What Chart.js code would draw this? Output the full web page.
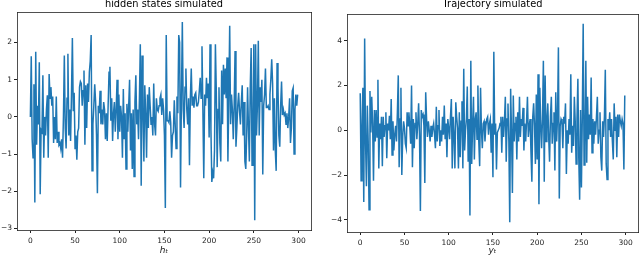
<!DOCTYPE html>
<html>
<head>
<meta charset="utf-8">
<script src="https://cdn.jsdelivr.net/npm/chart.js@4.4.0/dist/chart.umd.min.js"></script>
<style>
html,body{margin:0;padding:0;background:#fff;overflow:hidden}
body{width:640px;height:258px;position:relative}
.box{position:absolute;top:0;height:258px;width:320px}
#leftBox{left:0}
#rightBox{left:320px}
</style>
</head>
<body>
<div class="box" id="leftBox"><canvas id="hiddenChart"></canvas></div>
<div class="box" id="rightBox"><canvas id="trajChart"></canvas></div>
<script>
// hidden states h_t, t = 0..299
const hiddenStates = [
 0.0,1.63,-0.6,-1.1,0.88,-2.3,1.75,-0.75,0.3,-0.2,
 1.47,-2.08,-0.35,-0.4,1.12,-1.1,0.0,-0.5,0.2,0.58,
 -1.1,1.15,0.5,0.8,0.3,0.55,-0.7,0.0,-0.6,0.55,
 -0.7,-0.4,-0.75,-0.7,-0.85,-0.6,-1.1,0.0,1.65,-0.3,
 -0.85,0.5,1.7,-0.5,0.2,-0.65,0.6,2.12,0.15,0.65,
 -0.85,-0.5,-1.15,-0.4,-0.3,0.8,0.95,0.9,0.3,0.7,
 1.25,-0.75,0.85,-0.3,0.9,0.4,1.2,1.5,2.2,-1.45,
 -0.2,0.3,0.88,0.4,-0.5,-2.05,0.3,0.1,0.7,-0.2,
 0.2,-0.2,0.4,0.2,-0.6,0.1,-0.65,0.3,1.2,1.35,
 -0.1,0.5,-0.65,0.1,0.4,-0.4,0.2,1.0,-0.6,0.6,
 -0.4,0.3,0.0,-1.1,0.75,-0.6,0.1,-1.4,0.35,-0.4,
 0.3,1.0,-0.9,0.1,-1.4,0.2,-1.6,0.4,1.12,-0.2,
 0.2,-0.6,0.5,1.95,-1.85,1.65,0.2,-1.2,0.85,0.1,
 -1.1,0.6,-0.3,0.8,0.3,-0.2,0.0,-0.5,0.9,-0.2,
 -0.5,0.5,0.2,0.15,0.3,0.5,0.6,0.05,0.5,0.2,
 -0.5,-2.45,2.2,-0.1,-0.1,-0.15,0.15,-0.15,-1.1,-0.5,
 -0.4,0.45,-0.2,-0.85,0.55,0.1,2.2,2.0,-1.9,0.5,
 2.55,0.2,-0.3,0.8,1.3,0.2,-0.2,0.5,-1.3,0.5,
 1.3,0.3,0.55,0.25,0.6,0.65,0.3,0.3,0.4,0.7,
 1.05,0.5,1.9,0.2,-1.65,0.6,0.3,1.05,0.5,0.9,
 -0.55,1.95,-0.35,-1.75,-1.5,-1.65,-0.9,1.95,0.7,-1.35,
 0.2,0.8,-0.7,-1.2,1.25,-0.2,1.4,0.6,1.3,0.5,
 1.6,-1.2,0.5,2.45,-0.2,0.6,0.2,-0.6,0.3,1.77,
 -0.8,-0.3,0.3,0.65,0.15,-0.2,0.4,0.85,-0.5,0.4,
 -1.2,-1.4,-0.5,0.8,-0.3,-1.2,0.8,1.85,-1.3,-0.3,
 1.95,-2.78,1.95,-0.5,0.3,2.05,-0.5,0.8,0.4,1.0,
 -1.55,0.3,0.6,1.3,0.25,0.25,0.3,0.2,0.6,1.0,
 1.55,0.9,-0.9,0.5,-0.9,-1.45,1.45,0.8,-0.5,-0.8,
 0.3,0.95,0.05,0.2,0.05,0.1,-0.2,0.1,-0.3,0.0,
 0.5,-0.7,-0.3,0.7,0.78,-1.0,0.2,0.6,0.3,0.6
];

const trajectory = [
 1.65,-2.25,0.1,1.9,-3.2,4.1,-0.5,-2.5,1.1,-0.5,
 -3.55,1.75,-0.1,1.5,0.3,-2.25,0.9,-0.5,0.9,-0.3,
 2.25,-1.7,0.3,-0.4,0.6,-1.6,0.6,-0.3,0.2,0.8,
 -1.25,0.3,0.0,0.65,-0.4,1.4,-1.1,0.4,-0.9,-0.2,
 0.2,-0.5,0.8,2.45,-1.65,0.5,1.9,-2.0,-0.3,0.4,
 0.1,-0.6,-0.8,0.8,0.2,0.8,0.2,-0.6,2.0,-1.65,
 0.5,-0.8,0.3,0.8,-0.4,0.3,1.2,-0.2,-3.6,0.9,
 0.6,0.7,0.2,-2.35,1.7,0.5,-0.3,0.4,0.0,-0.5,
 0.2,-0.3,0.1,0.3,-0.2,-0.8,1.05,-0.5,0.2,0.9,
 -0.7,0.0,-0.5,0.6,-0.2,1.1,-0.4,0.3,-1.2,0.5,
 0.1,-0.4,0.6,1.4,-1.7,0.6,-0.2,-1.7,1.25,0.6,
 0.1,-1.7,0.8,-1.2,0.4,1.3,-1.7,2.75,-0.9,0.0,
 0.5,1.95,-1.4,0.5,-3.8,3.1,-1.5,0.2,1.5,-1.3,
 0.5,0.8,-0.4,2.0,-0.5,-1.6,1.9,0.0,-0.8,0.3,
 0.4,-0.5,0.2,0.5,0.6,-0.2,0.3,0.5,-1.0,0.3,
 -2.1,3.5,-0.2,0.3,-1.75,-0.1,0.0,0.1,0.3,0.6,
 -1.0,0.6,-0.3,0.4,1.5,-1.4,0.5,1.2,-0.5,-4.1,
 1.85,-0.1,-2.8,1.55,-0.5,0.3,0.6,-1.3,0.8,-0.5,
 1.5,-0.3,0.5,0.2,1.0,-0.9,0.3,-0.5,0.4,1.5,
 -0.3,0.2,0.5,-1.0,-2.3,0.6,1.2,0.2,-1.5,1.6,
 -1.3,2.5,-3.3,1.9,0.3,-0.8,0.5,3.1,-2.3,2.45,
 -0.5,0.4,1.2,-0.3,-1.4,0.6,1.5,-0.6,0.3,0.8,
 -1.8,1.7,-0.5,0.6,3.7,-3.05,0.2,0.5,0.4,-0.8,
 0.6,0.3,1.2,-1.95,0.0,-0.6,0.5,-0.2,2.5,-1.0,
 0.2,-0.7,1.5,0.4,-1.5,0.5,2.3,-1.2,-3.1,0.9,
 -2.55,0.6,4.75,-1.55,-0.7,3.1,-1.45,1.5,-0.4,0.7,
 -0.2,2.35,-1.0,0.5,-0.6,0.4,-0.2,0.6,1.5,-0.6,
 0.0,0.8,-1.2,-1.8,0.4,-0.3,0.6,2.7,-1.5,-2.2,
 0.5,0.0,0.8,-0.3,0.5,-0.5,-1.3,1.2,0.0,0.6,
 -1.2,0.7,-0.3,0.7,0.4,0.2,0.5,0.3,-1.75,1.55
];

const stepTicks = [0, 50, 100, 150, 200, 250, 300];
const hiddenTicks = [-3, -2, -1, 0, 1, 2];
const trajTicks = [-4, -2, 0, 2, 4];

const lineBlue = "#1f77b4";
const ink = "#222";
const tickFont = {family: "DejaVu Sans", size: 7.5};
const titleFont = {family: "DejaVu Sans", size: 9.8};

function fmt(v){
    return v < 0 ? "\u2212" + Math.abs(v) : String(v);
}

function setTicks(list){
    return function(scale){
        scale.ticks = list.map(v => ({value: v}));
    };
}

function makePanel(canvasId, values, yTicks, yMin, yMax, title, xLabel, box){

    return new Chart(document.getElementById(canvasId), {
        type: "line",
        data: {
            datasets: [{
                data: values.map((v, i) => ({x: i, y: v})),
                borderColor: lineBlue,
                backgroundColor: "transparent",
                borderWidth: 1.5,
                pointRadius: 0,
                tension: 0,
                fill: false
            }]
        },
        options: {
            responsive: true,
            maintainAspectRatio: false,
            animation: false,
            events: [],
            layout: {padding: {left: 0, right: box.right, top: 0, bottom: 0}},
            plugins: {legend: {display: false}, tooltip: {enabled: false}},
            scales: {
                x: {
                    type: "linear",
                    position: "bottom",
                    min: -14.95,
                    max: 313.95,
                    afterBuildTicks: setTicks(stepTicks),
                    afterFit: s => { s.height = box.bottom; },
                    grid: {drawOnChartArea: false, tickLength: 3, color: ink},
                    border: {color: ink, width: 0.8},
                    ticks: {font: tickFont, color: ink, padding: 3.5, maxRotation: 0, callback: fmt},
                    title: {display: true, text: xLabel, color: ink, padding: {top: 0, bottom: 1.5},
                            font: {family: "DejaVu Sans", size: 9, style: "italic"}}
                },
                y: {
                    type: "linear",
                    position: "left",
                    min: yMin,
                    max: yMax,
                    afterBuildTicks: setTicks(yTicks),
                    afterFit: s => { s.width = box.left; },
                    grid: {drawOnChartArea: false, tickLength: 3, color: ink},
                    border: {color: ink, width: 0.8},
                    ticks: {font: tickFont, color: ink, padding: 2, callback: fmt}
                },
                top: {
                    type: "linear",
                    position: "top",
                    afterFit: s => { s.height = box.top; },
                    grid: {display: false},
                    border: {color: ink, width: 0.8},
                    ticks: {display: false},
                    title: {display: true, text: title, color: "#000", font: titleFont, padding: {top: -1.5, bottom: 0}}
                },
                right: {
                    type: "linear",
                    position: "right",
                    afterFit: s => { s.width = 0; },
                    grid: {display: false},
                    border: {color: ink, width: 0.8},
                    ticks: {display: false}
                }
            }
        }
    });
}

const hiddenChart = makePanel("hiddenChart", hiddenStates, hiddenTicks, -3.04, 2.82,
    "hidden states simulated", "h\u209C", {left: 17, right: 9, top: 12, bottom: 28});

const trajChart = makePanel("trajChart", trajectory, trajTicks, -4.54, 5.19,
    "Trajectory simulated", "y\u209C", {left: 27, right: 2, top: 14, bottom: 26});
</script>
</body>
</html>
